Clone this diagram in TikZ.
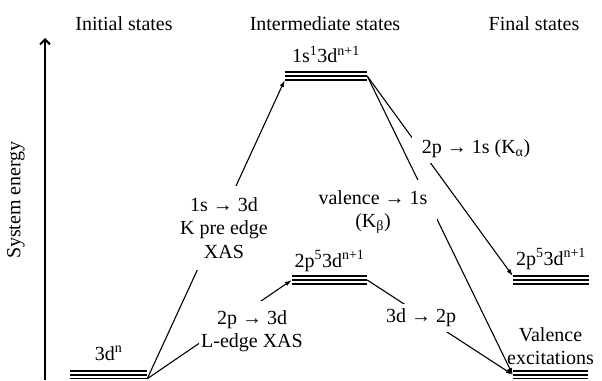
\documentclass[tikz,border=0pt]{standalone}
\usepackage{fontspec}
\setmainfont{Liberation Serif}
\usetikzlibrary{positioning,arrows.meta}

% three stacked lines of an energy level
\newcommand{\levellines}[1]{%
  \foreach \dy in {-3.8,0,3.8}
    \draw[line width=1.7pt] ([yshift=\dy pt]#1.west) -- ([yshift=\dy pt]#1.east);}

\begin{document}
\begin{tikzpicture}[x=1pt,y=-1pt,
    every node/.style={font=\fontsize{20}{23.5}\selectfont},
    level/.style={minimum width=#1,minimum height=7.6pt,inner sep=0pt},
    trans/.style={line width=1.1pt,-{Latex[length=7pt,width=4.5pt]}},
    lbl/.style={fill=white,align=center}]
    \useasboundingbox (0,0) rectangle (602,380);

    % energy axis
    \coordinate (ebot) at (45,380);
    \coordinate (etop) at (45,38);
    \draw[line width=2pt,-{Straight Barb[length=5pt,width=10pt,line width=2pt]}] (ebot) -- (etop);
    \node[rotate=90] (elabel) at (16,200) {System energy};

    % column titles
    \node (tinit) at (124,23.5) {Initial states};
    \node (tinter) at (325,23.5) {Intermediate states};
    \node (tfinal) at (534,23.5) {Final states};

    % levels
    \node[level=77] (init) at (108.5,374.8) {};
    \node[level=82] (interK) at (326,76) {};
    \node[level=75] (interL) at (329.5,280) {};
    \node[level=76] (finK) at (551,280) {};
    \node[level=75] (finV) at (550.5,374.8) {};
    \foreach \lv in {init,interK,interL,finK,finV}{
        \levellines{\lv}
    }

    \node[above=7pt of init] (linit) {3d\textsuperscript{n}};
    \node[above=5.5pt of interK] (linterK) {1s\textsuperscript{1}3d\textsuperscript{n+1}};
    \node[above=1pt of interL] (linterL) {2p\textsuperscript{5}3d\textsuperscript{n+1}};
    \node[above=3pt of finK] (lfinK) {2p\textsuperscript{5}3d\textsuperscript{n+1}};
    \node[above=2.5pt of finV,align=center] (lfinV) {Valence\\excitations};

    % transitions
    \draw[trans] (init.south east) -- (interK.south west);
    \draw[trans] (init.south east) -- (interL.west);
    \draw[trans] (interK.east) -- (finK.north west);
    \draw[trans] (interK.east) -- (finV.west);
    \draw[trans] (interL.east) -- (finV.west);

    \node[lbl,inner xsep=3pt,inner ysep=11pt] (kxas) at (224,228) {1s → 3d\\K pre edge\\XAS};
    \node[lbl,inner xsep=2pt,inner ysep=9pt] (lxas) at (252,331) {2p → 3d\\L-edge XAS};
    \node[lbl,inner xsep=10pt,inner ysep=5pt] (kalpha) at (476,149) {2p → 1s (K\textsubscript{α})};
    \node[lbl,inner xsep=10pt,inner ysep=10pt] (kbeta) at (373,212) {valence → 1s\\(K\textsubscript{β})};
    \node[lbl,inner xsep=3pt,inner ysep=4.5pt] (demit) at (421,318) {3d → 2p};
\end{tikzpicture}
\end{document}
